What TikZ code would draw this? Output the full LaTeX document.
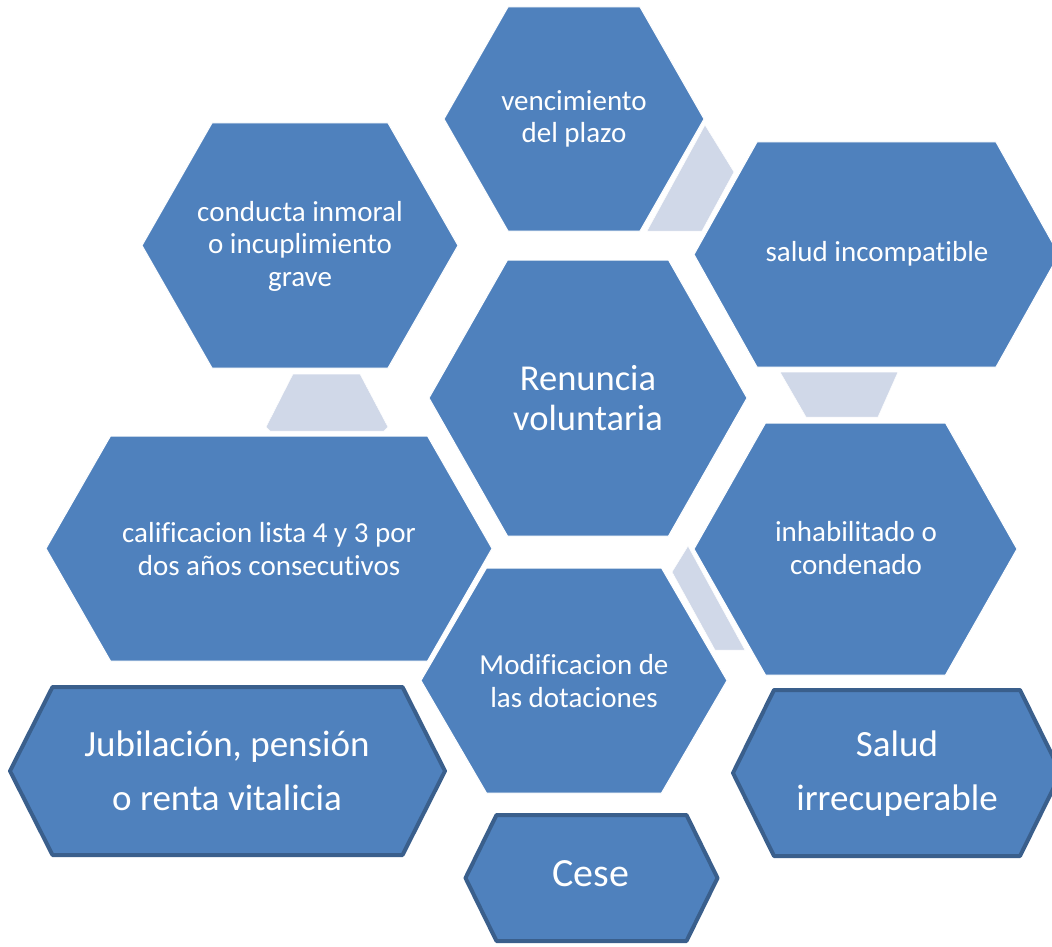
\documentclass[tikz,border=0pt]{standalone}
\usepackage{fontspec}
\setmainfont[RawFeature={-liga;-clig;-calt;-dlig}]{Carlito}
\usepackage{tikz}
\usetikzlibrary{positioning}
\definecolor{cellblue}{HTML}{4F81BD}
\definecolor{celledge}{HTML}{3A5F8C}
\definecolor{linkgrey}{HTML}{D0D8E8}
\tikzset{
    %Define style for hexagons
    cell/.style={
           fill=cellblue,
           draw=white, line width=1pt},
    framedcell/.style={
           fill=cellblue,
           draw=celledge, line width=4pt,
           line join=round},
    %Define style for the pale links
    link/.style={
           fill=linkgrey,
           draw=white, line width=0.5pt},
    %Define style for texts
    celltext/.style={
           text=white,
           align=center,
           inner sep=0pt,
           font=\fontsize{29}{32.5}\selectfont},
    bigtext/.style={
           celltext,
           font=\fontsize{37}{54}\selectfont}
}
%Hexagon: style, centre, point half width, top half width, half height
\newcommand{\hexpath}[5]{%
  \path[#1] (#2) ++({-(#3)},0) -- ++({(#3)-(#4)},{-(#5)}) -- ++({2*(#4)},0)
    -- ++({(#3)-(#4)},{#5}) -- ++({(#4)-(#3)},{#5}) -- ++({-2*(#4)},0) -- cycle;}

\begin{document}
\begin{tikzpicture}[x=1pt,y=-1pt]
\clip (0,0) rectangle (1052,947);
\fill[white] (0,0) rectangle (1052,947);
% links
\path[link] (705,125) -- (734,172) -- (702,231) -- (647,231) -- cycle;
\path[link] (293,374) -- (360,374) -- (388,427) -- (384,431) -- (270,431) -- (266,427) -- cycle;
\path[link] (780,372) -- (898,372) -- (878,417) -- (806,417) -- cycle;
\path[link] (688,546) -- (672,572) -- (715,650) -- (745,650) -- cycle;
% hexagons
\hexpath{cell}{574,119}{130}{66}{112}
\hexpath{cell}{300,245.5}{158}{88}{122.5}
\hexpath{cell}{876.5,254.5}{182.5}{119.5}{112.5}
\hexpath{cell}{588,398}{159}{80.5}{138}
\hexpath{cell}{269,548.5}{223}{158.5}{112.5}
\hexpath{cell}{855.5,549}{161.5}{90}{126}
\hexpath{cell}{574,680.5}{153}{87.5}{112.5}
\hexpath{framedcell}{227.5,771}{217.5}{175}{84}
\hexpath{framedcell}{897,773}{164}{123}{83}
\hexpath{framedcell}{591.5,878}{126}{95}{63}
% texts
\node[celltext] (plazo) at (574,119) {vencimiento\\del plazo};
\node[celltext] (conducta) at (300,246) {conducta inmoral\\o incuplimiento\\grave};
\node[celltext] (saludinc) at (877,254) {salud incompatible};
\node[celltext, font=\fontsize{36.5}{40}\selectfont] (renuncia) at (588,398) {Renuncia\\voluntaria};
\node[celltext] (calificacion) at (269,549) {calificacion lista 4 y 3 por\\dos años consecutivos};
\node[celltext] (inhabilitado) at (856,548) {inhabilitado o\\condenado};
\node[celltext] (dotaciones) at (574,681) {Modificacion de\\las dotaciones};
\node[bigtext] (jubilacion) at (227,771) {Jubilación, pensión\\o renta vitalicia};
\node[bigtext] (saludirr) at (897,774) {Salud\\irrecuperable};
\node[bigtext, font=\fontsize{40}{44}\selectfont] (cese) at (591,874) {Cese};
\end{tikzpicture}
\end{document}
